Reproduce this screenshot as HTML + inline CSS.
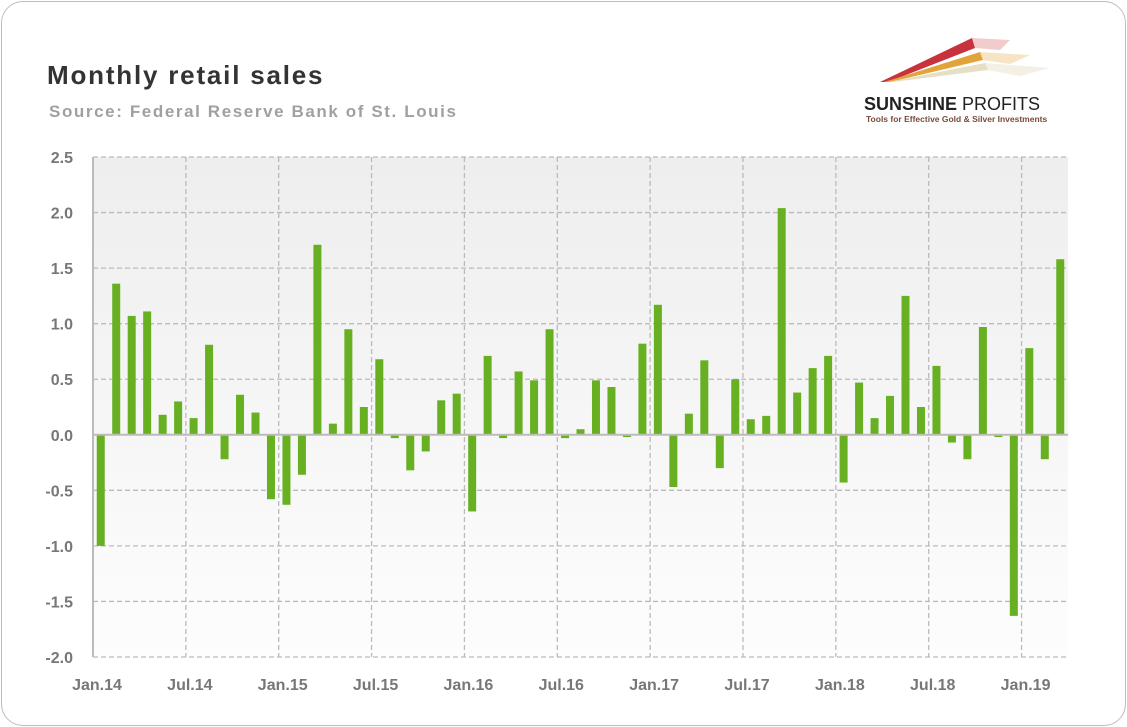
<!DOCTYPE html>
<html><head><meta charset="utf-8"><style>
body{margin:0;background:#fff;}
#card{position:absolute;left:1px;top:1px;width:1123px;height:723px;border:1px solid #bdbdbd;border-radius:22px;background:#fff;}
.t{font-family:"Liberation Sans",sans-serif;}
</style></head><body>
<div id="card"></div>
<svg id="chart" width="1127" height="727" style="position:absolute;left:0;top:0">
<defs><linearGradient id="bg" x1="0" y1="0" x2="0" y2="1"><stop offset="0" stop-color="#eeeeee"/><stop offset="1" stop-color="#fdfdfd"/></linearGradient></defs>
<text x="47" y="84" class="t" font-size="26" font-weight="bold" fill="#333" letter-spacing="1.8">Monthly retail sales</text>
<text x="49" y="117" class="t" font-size="17" font-weight="bold" fill="#a0a0a0" letter-spacing="1.6">Source: Federal Reserve Bank of St. Louis</text>
<g>
<polygon points="880,82 972,38 975,48 888,82" fill="#c8323c"/>
<polygon points="884,82 980,52 983,60 890,82" fill="#e2a33a"/>
<polygon points="888,82 985,63 988,70 893,82" fill="#e6dfc6"/>
<polygon points="972,38 1010,40 1000,50 975,48" fill="#e9a9a9" opacity="0.6"/>
<polygon points="980,52 1030,55 1010,64 983,60" fill="#f2d29c" opacity="0.6"/>
<polygon points="985,63 1050,68 1020,76 988,70" fill="#eee6d2" opacity="0.6"/>
<text x="864" y="110" class="t" font-size="18" font-weight="bold" fill="#222">SUNSHINE <tspan font-weight="normal">PROFITS</tspan></text>
<text x="866" y="122" class="t" font-size="8.5" font-weight="bold" fill="#7a4a3a">Tools for Effective Gold &amp; Silver Investments</text>
</g>
<rect x="93" y="157" width="975" height="500" fill="url(#bg)"/>
<g id="grid"></g><g id="bars"></g><g id="axes"></g>
</svg>
<script>
const yTicks=[2.5,2.0,1.5,1.0,0.5,0.0,-0.5,-1.0,-1.5,-2.0];
const yTickLabels=["2.5","2.0","1.5","1.0","0.5","0.0","-0.5","-1.0","-1.5","-2.0"];
const xTickLabels=["Jan.14","Jul.14","Jan.15","Jul.15","Jan.16","Jul.16","Jan.17","Jul.17","Jan.18","Jul.18","Jan.19"];
const values=[-1.00,1.36,1.07,1.11,0.18,0.30,0.15,0.81,-0.22,0.36,0.20,-0.58,
-0.63,-0.36,1.71,0.10,0.95,0.25,0.68,-0.03,-0.32,-0.15,0.31,0.37,
-0.69,0.71,-0.03,0.57,0.49,0.95,-0.03,0.05,0.49,0.43,-0.02,0.82,
1.17,-0.47,0.19,0.67,-0.30,0.50,0.14,0.17,2.04,0.38,0.60,0.71,
-0.43,0.47,0.15,0.35,1.25,0.25,0.62,-0.07,-0.22,0.97,-0.02,-1.63,
0.78,-0.22,1.58];
const NS="http://www.w3.org/2000/svg";
const X0=93,X1=1068,Y0=157,Y1=657,yMax=2.5,yMin=-2.0,nMonths=63;
const step=(X1-X0)/nMonths;
const y=v=>Y0+(yMax-v)/(yMax-yMin)*(Y1-Y0);
const x=i=>X0+i*step;
function mk(tag,attrs,parent){const e=document.createElementNS(NS,tag);for(const k in attrs)e.setAttribute(k,attrs[k]);parent.appendChild(e);return e;}
const grid=document.getElementById('grid'),bars=document.getElementById('bars'),axes=document.getElementById('axes');
yTicks.forEach((t,i)=>{
 if(t!==0){const l=mk('line',{x1:X0,x2:X1,y1:y(t),y2:y(t),stroke:'#bbb','stroke-width':1.3,'stroke-dasharray':'5,3'},grid);
 
 }
 const tx=mk('text',{x:73,y:y(t)+6,'text-anchor':'end','font-size':16,'font-weight':'bold',fill:'#777',class:'t'},axes);
 tx.textContent=yTickLabels[i];
 
 
});
xTickLabels.forEach((lab,k)=>{
 const gx=x(k*6);
 if(k>0){const l=mk('line',{x1:gx,x2:gx,y1:Y0,y2:Y1,stroke:'#bbb','stroke-width':1.3,'stroke-dasharray':'5,3'},grid);
 
 }
 const tx=mk('text',{x:gx+4,y:690,'text-anchor':'middle','font-size':16,'font-weight':'bold',fill:'#777',class:'t'},axes);
 tx.textContent=lab;
 
 
});
values.forEach((v,i)=>{
 const cx=x(i)+step/2;
 const top=Math.min(y(v),y(0)),h=Math.abs(y(v)-y(0));
 const r=mk('rect',{x:cx-4,y:top,width:8,height:Math.max(h,1),fill:'#67b022'},bars);
 
 
});
const za=mk('line',{x1:X0,x2:X1,y1:y(0),y2:y(0),stroke:'#bbb','stroke-width':2},axes);


const ya=mk('line',{x1:X0,x2:X0,y1:Y0,y2:Y1,stroke:'#bbb','stroke-width':2},axes);


</script>
</body></html>
